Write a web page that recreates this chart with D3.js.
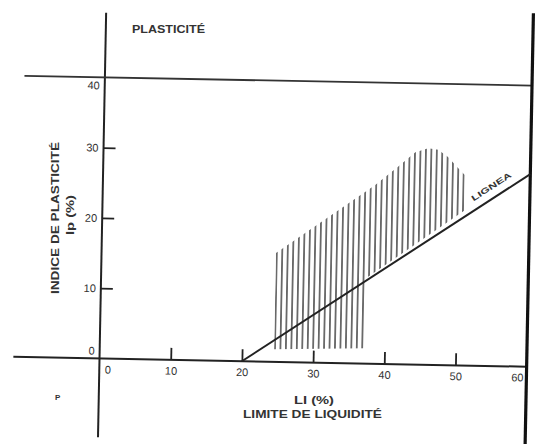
<!DOCTYPE html>
<html><head><meta charset="utf-8">
<script src="https://cdn.jsdelivr.net/npm/d3@7"></script>
<style>body{margin:0;background:#fff} svg{display:block}</style>
</head><body>
<svg id="chart" width="544" height="444"></svg>
<script>
// ---- data ----
const xTicks = [0, 10, 20, 30, 40, 50, 60];
const yTicks = [0, 10, 20, 30, 40];
const ligneA = [[20, 0], [60, 27.4]];
const hatchTop = [[24.5, 15.5], [38.2, 25.4], [41.4, 28.1], [43.8, 30.2], [45.6, 30.8], [47.0, 30.6], [48.4, 29.6], [49.7, 28.2], [50.8, 27.1]];
const hatchBottom = [[50.8, 22.0], [37.3, 12.2], [37.3, 2.2], [24.5, 1.8]];
const xAxisExtent = [-12.1, 60];
const yAxisExtent = [-11.2, 49.2];
const line40Extent = [-11.3, 60];
const rightLineExtent = [-14, 50.3];
const line40Value = 40;
const rightLineValue = 60;
const ligneALabelAt = 55.4;

// ---- layout ----
const svg = d3.select("#chart");
const x = d3.scaleLinear().domain([0, 60]).range([99.5, 526.7]);
const y = d3.scaleLinear().domain([0, 40]).range([358.5, 77.3]);
const ink = "#222";
const font = "'Liberation Sans', Arial, sans-serif";

const g = svg.append("g").attr("transform", `rotate(1.1, ${x(0)}, ${y(0)})`);

// hatch pattern
const defs = svg.append("defs");
const pat = defs.append("pattern").attr("id", "hatch")
  .attr("patternUnits", "userSpaceOnUse")
  .attr("width", 5.45).attr("height", 20)
  .attr("x", x(hatchBottom[3][0]) - 0.1);
pat.append("rect").attr("x", 0.1).attr("y", 0).attr("width", 1.6).attr("height", 20).attr("fill", "#555");

const lineGen = d3.line().x(d => x(d[0])).y(d => y(d[1]));
g.append("path")
  .attr("d", lineGen(hatchTop.concat(hatchBottom)) + "Z")
  .attr("fill", "url(#hatch)");

// frame lines
g.append("line").attr("x1", x(xAxisExtent[0])).attr("x2", x(xAxisExtent[1]))
  .attr("y1", y(0)).attr("y2", y(0)).attr("stroke", ink).attr("stroke-width", 2);
g.append("line").attr("x1", x(0)).attr("x2", x(0))
  .attr("y1", y(yAxisExtent[0])).attr("y2", y(yAxisExtent[1])).attr("stroke", ink).attr("stroke-width", 2);
g.append("line").attr("x1", x(line40Extent[0])).attr("x2", x(line40Extent[1]))
  .attr("y1", y(line40Value)).attr("y2", y(line40Value)).attr("stroke", "#333").attr("stroke-width", 1.8);
g.append("line").attr("x1", x(rightLineValue)).attr("x2", x(rightLineValue))
  .attr("y1", y(rightLineExtent[0])).attr("y2", y(rightLineExtent[1])).attr("stroke", "#111").attr("stroke-width", 3.2);

// A line
g.append("path").attr("d", lineGen(ligneA)).attr("fill", "none").attr("stroke", ink).attr("stroke-width", 2);

// axes
const xAxis = g.append("g").attr("transform", `translate(0,${y(0)})`)
  .call(d3.axisBottom(x).tickValues(xTicks).tickSizeInner(-12).tickSizeOuter(0).tickPadding(7));
xAxis.select(".domain").remove();
xAxis.selectAll(".tick line").attr("stroke", ink).attr("stroke-width", 1.8)
  .filter(d => d === 0 || d === 60).remove();
xAxis.selectAll(".tick text").attr("font-family", font).attr("font-size", 11).attr("fill", "#333")
  .attr("dx", d => d === 0 ? 8 : d === 60 ? -9.5 : 0);

const yAxis = g.append("g").attr("transform", `translate(${x(0)},0)`)
  .call(d3.axisLeft(y).tickValues(yTicks).tickSizeInner(-12).tickSizeOuter(0).tickPadding(5));
yAxis.select(".domain").remove();
yAxis.selectAll(".tick line").attr("stroke", ink).attr("stroke-width", 1.8)
  .filter(d => d === 0 || d === 40).remove();
yAxis.selectAll(".tick text").attr("font-family", font).attr("font-size", 11).attr("fill", "#333")
  .attr("dy", d => d === 40 ? "1.05em" : d === 0 ? "-0.4em" : "0.32em");

// A line label
const ang = Math.atan2(y(ligneA[1][1]) - y(ligneA[0][1]), x(ligneA[1][0]) - x(ligneA[0][0])) * 180 / Math.PI;
const slope = (ligneA[1][1] - ligneA[0][1]) / (ligneA[1][0] - ligneA[0][0]);
const ly = ligneA[0][1] + slope * (ligneALabelAt - ligneA[0][0]);
g.append("text")
  .attr("transform", `translate(${x(ligneALabelAt)},${y(ly)}) rotate(${ang})`)
  .attr("y", -8).attr("text-anchor", "middle")
  .attr("font-family", font).attr("font-weight", "bold").attr("font-size", 8)
  .attr("textLength", 46).attr("lengthAdjust", "spacingAndGlyphs")
  .attr("fill", "#333").text("LIGNEA");

// titles
function label(txt, tx, ty, size, len, rot) {
  const t = svg.append("text")
    .attr("transform", `translate(${tx},${ty})` + (rot ? ` rotate(${rot})` : ""))
    .attr("font-family", font).attr("font-weight", "bold").attr("font-size", size)
    .attr("fill", "#333").text(txt);
  if (len) t.attr("textLength", len).attr("lengthAdjust", "spacingAndGlyphs");
  return t;
}
label("PLASTICITÉ", 132, 33, 11.5, 73);
label("INDICE DE PLASTICITÉ", 59, 294, 11, 152, -90);
label("Ip (%)", 74, 235, 10, 40, -90);
label("LI (%)", 294, 404, 11, 40);
label("LIMITE DE LIQUIDITÉ", 243, 418, 11, 139);
label("P", 55, 400, 8);
</script>
</body></html>
